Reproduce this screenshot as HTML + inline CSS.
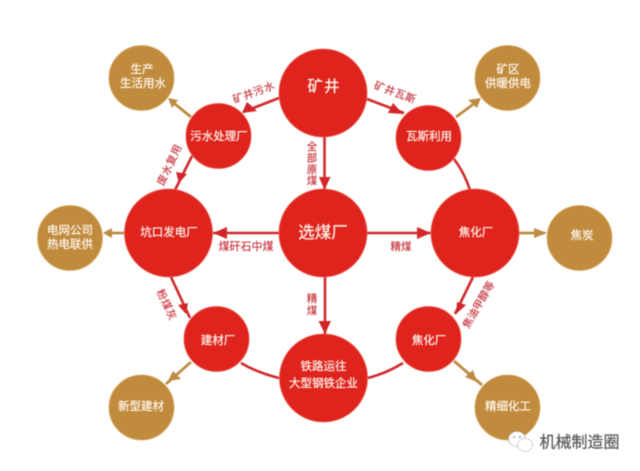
<!DOCTYPE html>
<html lang="zh">
<head>
<meta charset="utf-8">
<title>煤炭循环经济图</title>
<style>
html,body{margin:0;padding:0;background:#fff;width:640px;height:471px;overflow:hidden}
svg{display:block;filter:blur(.5px)}
text{font-family:"Liberation Sans","Noto Sans CJK SC",sans-serif;text-anchor:middle;dominant-baseline:central}
.w{fill:#fff6ee;font-size:11.5px;stroke:#fff6ee;stroke-width:.2px}
.l{fill:#c5343c;font-size:10.5px;stroke:#c5343c;stroke-width:.15px}
.r{stroke:#cf2a2c;stroke-width:2.6;fill:none}
.g{stroke:#bd8c42;stroke-width:2.8;fill:none}
.rf{fill:#d2262a}
.gf{fill:#bd8c42}
.cr{fill:#de241c;stroke:#ea5a50;stroke-width:.8}
.cg{fill:#c08b3c;stroke:#d9ab68;stroke-width:.8}
</style>
</head>
<body>
<svg width="640" height="471" viewBox="0 0 640 471" xmlns="http://www.w3.org/2000/svg">
<rect width="640" height="471" fill="#fff"/>

<!-- red connectors -->
<path class="r" d="M279 98L243 112"/>
<path class="r" d="M367 99L404 113"/>
<path class="r" d="M324.500 137V190"/>
<path class="r" d="M192 156L175 190"/>
<path class="r" d="M279 233H213"/>
<path class="r" d="M367 233H431"/>
<path class="r" d="M171 277L190 318"/>
<path class="r" d="M325 277V334"/>
<path class="r" d="M473 277L455 314"/>
<path class="r" d="M454 159Q464 172 470 190"/>
<path class="r" d="M241 363Q258 373 279 378"/>
<path class="r" d="M368 378Q387 373 403 363"/>
<polygon class="rf" points="247,102 257,111 242,113"/>
<polygon class="rf" points="393,103 388,113 403,114"/>
<polygon class="rf" points="319,177 330.500,177 324.500,190"/>
<polygon class="rf" points="176,172 187,174 179,183"/>
<polygon class="rf" points="227,227 227,239 213,233"/>
<polygon class="rf" points="417,227 417,239 431,233"/>
<polygon class="rf" points="178,305 188,303 186,314"/>
<polygon class="rf" points="318.500,321 331,321 325,334"/>
<polygon class="rf" points="457,302 466,305 456,314"/>

<!-- gold connectors -->
<path class="g" d="M191 117L170 100"/>
<path class="g" d="M456 117L479 100"/>
<path class="g" d="M124 233H105"/>
<path class="g" d="M519 233H545"/>
<path class="g" d="M191 362L166 384"/>
<path class="g" d="M454 361L482 385"/>
<polygon class="gf" points="168,98 172,108 178,100"/>
<polygon class="gf" points="481,98 468,100 477,108"/>
<polygon class="gf" points="103,233 112,228 112,238"/>
<polygon class="gf" points="547,233 534,228 534,238"/>
<polygon class="gf" points="168,381 173,371 181,379"/>
<polygon class="gf" points="477,382 465,377 473,370"/>

<!-- red nodes -->
<circle class="cr" cx="323" cy="93" r="44"/>
<circle class="cr" cx="323" cy="233" r="44"/>
<circle class="cr" cx="168.500" cy="233" r="44"/>
<circle class="cr" cx="475" cy="233" r="44"/>
<circle class="cr" cx="323.500" cy="378" r="44"/>
<circle class="cr" cx="218.500" cy="136" r="32.500"/>
<circle class="cr" cx="428.500" cy="138" r="32.500"/>
<circle class="cr" cx="216.500" cy="339" r="32.500"/>
<circle class="cr" cx="428.500" cy="339" r="32.500"/>

<!-- gold nodes -->
<circle class="cg" cx="141.500" cy="78" r="32.500"/>
<circle class="cg" cx="507.500" cy="78" r="32.500"/>
<circle class="cg" cx="70" cy="238" r="32.500"/>
<circle class="cg" cx="579.500" cy="238" r="32.500"/>
<circle class="cg" cx="141.500" cy="407.500" r="32.500"/>
<circle class="cg" cx="507.500" cy="407.500" r="32.500"/>

<!-- node labels -->
<text class="w" x="324" y="87" style="font-size:15.500px;letter-spacing:1px">矿井</text>
<text class="w" x="323" y="233" style="font-size:16.500px">选煤厂</text>
<text class="w" x="169" y="233">坑口发电厂</text>
<text class="w" x="476" y="233">焦化厂</text>
<text class="w" x="219" y="137">污水处理厂</text>
<text class="w" x="429" y="137">瓦斯利用</text>
<text class="w" x="218" y="341">建材厂</text>
<text class="w" x="429" y="341">焦化厂</text>
<text class="w" x="323.500" y="367">铁路运往</text>
<text class="w" x="323.500" y="384">大型钢铁企业</text>
<text class="w" x="142" y="70">生产</text>
<text class="w" x="143" y="84">生活用水</text>
<text class="w" x="508" y="70">矿区</text>
<text class="w" x="508" y="84">供暖供电</text>
<text class="w" x="70" y="231">电网公司</text>
<text class="w" x="70" y="245">热电联供</text>
<text class="w" x="582" y="236">焦炭</text>
<text class="w" x="141" y="407">新型建材</text>
<text class="w" x="508" y="407">精细化工</text>

<!-- connector labels -->
<text class="l" transform="translate(254 93) rotate(-20)" style="letter-spacing:.5px">矿井污水</text>
<text class="l" transform="translate(395 93) rotate(20)" style="letter-spacing:.5px">矿井瓦斯</text>
<text class="l" x="312" y="147">全</text>
<text class="l" x="312" y="158.500">部</text>
<text class="l" x="312" y="170">原</text>
<text class="l" x="312" y="181">煤</text>
<text class="l" transform="translate(170 165) rotate(-65)" style="letter-spacing:.5px">废水复用</text>
<text class="l" x="246" y="247" style="font-size:11px">煤矸石中煤</text>
<text class="l" x="401" y="247">精煤</text>
<text class="l" x="312" y="299">精</text>
<text class="l" x="312" y="311">煤</text>
<text class="l" transform="translate(166 305) rotate(65)" style="letter-spacing:.5px">粉煤灰</text>
<text class="l" transform="translate(479 305) rotate(-60)">焦油甲醇等</text>

<!-- watermark -->
<ellipse cx="517" cy="439" rx="8.500" ry="7.500" fill="#fff" stroke="#aaa" stroke-width=".6"/>
<ellipse cx="525" cy="445" rx="7.500" ry="6.500" fill="#fff" stroke="#999" stroke-width=".6" stroke-dasharray="2 1"/>
<circle cx="514" cy="437" r="1" fill="#999"/>
<circle cx="520" cy="437" r="1" fill="#999"/>
<text x="579.500" y="443" style="font-size:16px;fill:#555;stroke:#555;stroke-width:.2px">机械制造圈</text>
</svg>
</body>
</html>
